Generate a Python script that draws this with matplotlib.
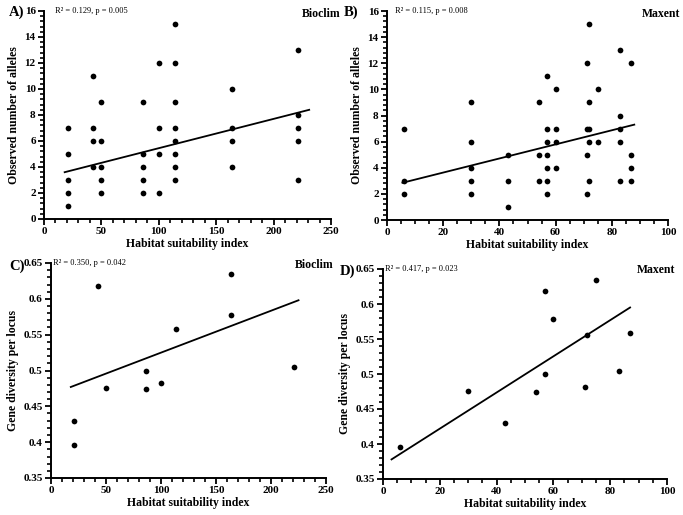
import matplotlib
matplotlib.use("Agg")
import numpy as np
import matplotlib.pyplot as plt
from matplotlib.ticker import AutoMinorLocator, MultipleLocator

plt.rcParams['font.family'] = ['Liberation Serif', 'DejaVu Serif']
plt.rcParams['font.weight'] = 'bold'

# A) Bioclim - observed alleles
a_x = [21]*5 + [43]*4 + [50]*5 + [86]*5 + [100]*4 + [114]*8 + [164]*4 + [221]*5
a_y = [7, 5, 3, 2, 1,
       11, 7, 6, 4,
       9, 6, 4, 3, 2,
       9, 5, 4, 3, 2,
       12, 7, 5, 2,
       15, 12, 9, 7, 6, 5, 4, 3,
       10, 7, 6, 4,
       13, 8, 7, 6, 3]
a_line_x = [18, 231]
a_line_y = [3.6, 8.4]

# B) Maxent - observed alleles
b_x = [6]*3 + [30]*5 + [43]*3 + [54]*3 + [57]*7 + [60]*4 + [71]*4 + [72]*5 + [75]*2 + [83]*5 + [87]*4
b_y = [7, 3, 2,
       9, 6, 4, 3, 2,
       5, 3, 1,
       9, 5, 3,
       11, 7, 6, 5, 4, 3, 2,
       10, 7, 6, 4,
       12, 7, 5, 2,
       15, 9, 7, 6, 3,
       10, 6,
       13, 8, 7, 6, 3,
       12, 5, 4, 3]
b_line_x = [5.5, 88]
b_line_y = [2.85, 7.3]

# C) Bioclim - gene diversity
c_x = [21, 21, 43, 50, 86, 86, 100, 114, 164, 164, 221]
c_y = [0.430, 0.396, 0.618, 0.476, 0.500, 0.474, 0.482, 0.558, 0.634, 0.578, 0.505]
c_line_x = [18, 225]
c_line_y = [0.477, 0.598]

# D) Maxent - gene diversity
d_x = [6, 30, 43, 54, 57, 57, 60, 71, 72, 75, 83, 87]
d_y = [0.396, 0.476, 0.430, 0.474, 0.618, 0.500, 0.578, 0.482, 0.556, 0.634, 0.504, 0.558]
d_line_x = [3, 87]
d_line_y = [0.378, 0.595]

W, H = 683, 515
fig = plt.figure(figsize=(W/100, H/100), dpi=100)

def add_ax(l, r, t, b):
    return fig.add_axes([l/W, 1 - b/H, (r-l)/W, (b-t)/H])

panels = [
    dict(box=(44, 331, 11, 219), x=a_x, y=a_y, lx=a_line_x, ly=a_line_y,
         xlim=(0, 250), xmaj=50, xmin=5, ylim=(0, 16), ymaj=2, ymin=5,
         ylabel='Observed number of alleles', tag='A)', tagpos=(9, 12),
         stat='R² = 0.129, p = 0.005', statpos=(55, 11), model='Bioclim', modelpos=(340, 14)),
    dict(box=(387, 668, 11, 220), x=b_x, y=b_y, lx=b_line_x, ly=b_line_y,
         xlim=(0, 100), xmaj=20, xmin=4, ylim=(0, 16), ymaj=2, ymin=5,
         ylabel='Observed number of alleles', tag='B)', tagpos=(344, 12),
         stat='R² = 0.115, p = 0.008', statpos=(395, 11), model='Maxent', modelpos=(680, 14)),
    dict(box=(51, 326, 263, 478), x=c_x, y=c_y, lx=c_line_x, ly=c_line_y,
         xlim=(0, 250), xmaj=50, xmin=5, ylim=(0.35, 0.65), ymaj=0.05, ymin=5,
         ylabel='Gene diversity per locus', tag='C)', tagpos=(9, 266),
         stat='R² = 0.350, p = 0.042', statpos=(53, 263), model='Bioclim', modelpos=(333, 265)),
    dict(box=(383, 667, 269, 479), x=d_x, y=d_y, lx=d_line_x, ly=d_line_y,
         xlim=(0, 100), xmaj=20, xmin=4, ylim=(0.35, 0.65), ymaj=0.05, ymin=5,
         ylabel='Gene diversity per locus', tag='D)', tagpos=(340, 271),
         stat='R² = 0.417, p = 0.023', statpos=(385, 269), model='Maxent', modelpos=(675, 270)),
]

for p in panels:
    ax = add_ax(*p['box'])
    ax.scatter(p['x'], p['y'], s=17, color='black', zorder=3, linewidths=0)
    ax.plot(p['lx'], p['ly'], color='black', lw=1.3)
    ax.set_xlim(*p['xlim'])
    ax.set_ylim(*p['ylim'])
    ax.xaxis.set_major_locator(MultipleLocator(p['xmaj']))
    ax.yaxis.set_major_locator(MultipleLocator(p['ymaj']))
    ax.xaxis.set_minor_locator(AutoMinorLocator(p['xmin']))
    ax.yaxis.set_minor_locator(AutoMinorLocator(p['ymin']))
    for s in ['top', 'right']:
        ax.spines[s].set_visible(False)
    for s in ['left', 'bottom']:
        ax.spines[s].set_linewidth(1.4)
    ax.tick_params(which='major', direction='out', length=4, width=1.3, labelsize=8, pad=2)
    ax.tick_params(which='minor', direction='out', length=3, width=1.2)
    if p['ylim'][1] < 1:
        ax.set_yticks(ax.get_yticks())
        ax.set_yticklabels([('%.2f' % v).rstrip('0') for v in ax.get_yticks()])
        ax.set_ylim(*p['ylim'])
    ax.set_xlabel('Habitat suitability index', fontsize=8.5, fontweight='bold', labelpad=1)
    ax.set_ylabel(p['ylabel'], fontsize=8.5, fontweight='bold', labelpad=3)
    tx, ty = p['tagpos']
    fig.text(tx/W, 1 - ty/H, p['tag'], ha='left', va='center', fontsize=10.5, fontweight='bold')
    sx, sy = p['statpos']
    fig.text(sx/W, 1 - sy/H, p['stat'], ha='left', va='center', fontsize=6, fontweight='normal')
    mx, my = p['modelpos']
    fig.text(mx/W, 1 - my/H, p['model'], ha='right', va='center', fontsize=8.5, fontweight='bold')

fig.savefig('out.png', dpi=100)
